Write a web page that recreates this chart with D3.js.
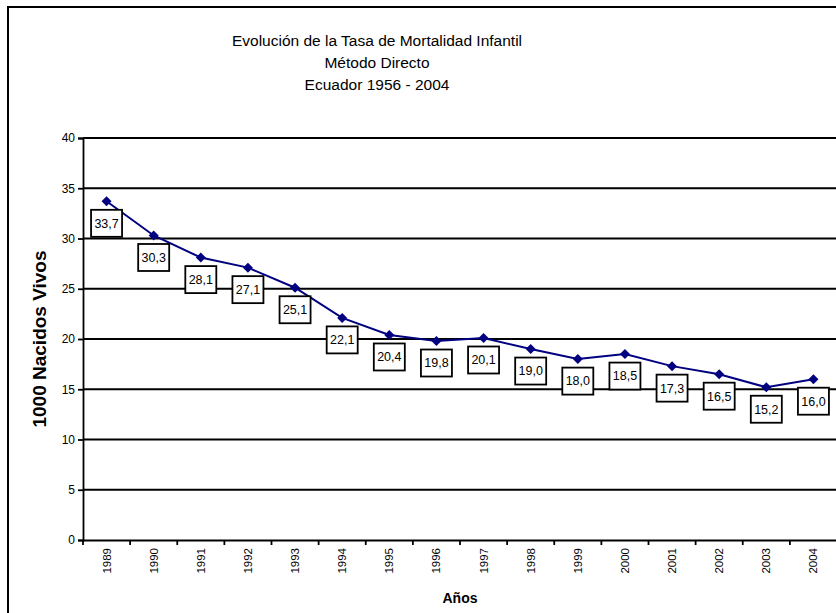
<!DOCTYPE html>
<html><head><meta charset="utf-8">
<script src="https://cdn.jsdelivr.net/npm/d3@7"></script>
<style>body{margin:0;background:#fff}svg{display:block}text{font-family:"Liberation Sans",Arial,sans-serif}</style>
</head><body>
<svg id="c" width="836" height="613"></svg>
<script>
const titleLines = ["Evolución de la Tasa de Mortalidad Infantil", "Método Directo", "Ecuador 1956 - 2004"];
const years = ["1989","1990","1991","1992","1993","1994","1995","1996","1997","1998","1999","2000","2001","2002","2003","2004"];
const rates = [33.7,30.3,28.1,27.1,25.1,22.1,20.4,19.8,20.1,19.0,18.0,18.5,17.3,16.5,15.2,16.0];
const yTicks = [0,5,10,15,20,25,30,35,40];
const yTitle = "1000 Nacidos Vivos";
const xTitle = "Años";

const svg = d3.select("#c");
const m = {left:83, right:837, top:138, bottom:540};

// outer frame
svg.append("rect").attr("x",8).attr("y",7).attr("width",900).attr("height",700)
  .attr("fill","none").attr("stroke","#000").attr("stroke-width",2);

const x = d3.scaleBand().domain(years).range([m.left, m.right]);
const y = d3.scaleLinear().domain([0,40]).range([m.bottom, m.top]);

// title
const t = svg.append("text").attr("text-anchor","middle").attr("font-size",15.5);
titleLines.forEach((l,i)=>t.append("tspan").attr("x",377).attr("y",46+i*22).text(l));

// gridlines
svg.append("g").selectAll("line").data(yTicks.filter(d=>d>0)).join("line")
  .attr("x1",m.left).attr("x2",m.right).attr("y1",d=>y(d)).attr("y2",d=>y(d))
  .attr("stroke","#000").attr("stroke-width",1.8);

// y axis
const ya = svg.append("g").attr("transform",`translate(${m.left},0)`)
  .call(d3.axisLeft(y).tickValues(yTicks).tickSize(5).tickPadding(3));
ya.select(".domain").attr("stroke","#000").attr("stroke-width",1.8);
ya.selectAll(".tick line").attr("stroke","#000").attr("stroke-width",1.8);
ya.selectAll("text").attr("font-size",12).attr("fill","#000").attr("font-family","Liberation Sans, Arial, sans-serif");

// x axis
const xa = svg.append("g").attr("transform",`translate(0,${m.bottom})`)
  .call(d3.axisBottom(x).tickSize(0).tickPadding(0));
xa.select(".domain").attr("stroke","#000").attr("stroke-width",1.8);
xa.selectAll(".tick text").attr("font-size",11.5).attr("fill","#000")
  .attr("font-family","Liberation Sans, Arial, sans-serif")
  .attr("transform","rotate(-90)").attr("text-anchor","end")
  .attr("x",-8).attr("y",0).attr("dy","0.35em");
// band boundary ticks
const bounds = years.map(d=>x(d));
svg.append("g").selectAll("line").data(bounds).join("line")
  .attr("x1",d=>d).attr("x2",d=>d).attr("y1",m.bottom).attr("y2",m.bottom+5)
  .attr("stroke","#000").attr("stroke-width",1.8);

// axis titles
svg.append("text").attr("transform","translate(46,339) rotate(-90)").attr("text-anchor","middle")
  .attr("font-size",19).attr("font-weight","bold").text(yTitle);
svg.append("text").attr("x",460).attr("y",603).attr("text-anchor","middle")
  .attr("font-size",14).attr("font-weight","bold").text(xTitle);

// line
const cx = d=>x(d)+x.bandwidth()/2;
const line = d3.line().x((d,i)=>cx(years[i])).y(d=>y(d));
svg.append("path").datum(rates).attr("d",line).attr("fill","none")
  .attr("stroke","#000080").attr("stroke-width",2);
svg.append("g").selectAll("path").data(rates).join("path")
  .attr("d",d3.symbol(d3.symbolDiamond2,64)())
  .attr("transform",(d,i)=>`translate(${cx(years[i])},${y(d)})`)
  .attr("fill","#000080");

// labels
const lg = svg.append("g").selectAll("g").data(rates).join("g")
  .attr("transform",(d,i)=>`translate(${cx(years[i])},${y(d)+22})`);
lg.append("rect").attr("x",-15.5).attr("y",-13.5).attr("width",31).attr("height",27)
  .attr("fill","#fff").attr("stroke","#000").attr("stroke-width",1.8);
lg.append("text").attr("text-anchor","middle").attr("dy","0.35em").attr("font-size",12.5)
  .text(d=>d.toFixed(1).replace(".",","));
</script>
</body></html>
